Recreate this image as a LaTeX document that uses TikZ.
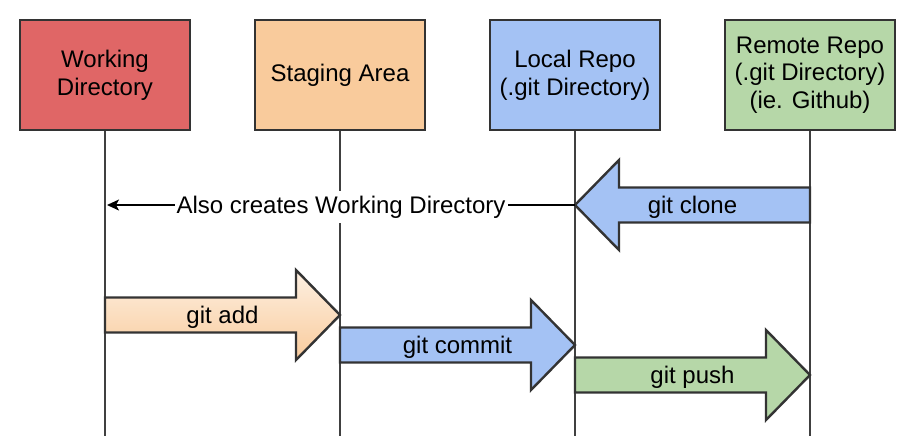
\documentclass[tikz,border=0pt]{standalone}
\usepackage{fontspec}
\setmainfont{Liberation Sans}
\usetikzlibrary{arrows.meta,calc}

\definecolor{rossoWD}{RGB}{224,102,102}
\definecolor{aranciaSA}{RGB}{249,203,156}
\definecolor{arancioChiaro}{RGB}{253,240,226}
\definecolor{bluLR}{RGB}{164,194,244}
\definecolor{verdeRR}{RGB}{182,215,168}
\definecolor{bordo}{RGB}{51,51,51}
\definecolor{linea}{RGB}{64,64,64}

\tikzset{
  blocco/.style={rectangle, draw=bordo, line width=1.2pt, minimum width=85pt, minimum height=55pt,
    align=center, font=\fontsize{12pt}{13.8pt}\selectfont},
  vita/.style={draw=linea, line width=1.2pt},
  etichetta/.style={font=\fontsize{12pt}{14pt}\selectfont, yshift=-1pt},
  frecciadx/.style={draw=bordo, line width=1.2pt, line join=miter,
    to path={let \p1=(\tikztostart), \p2=(\tikztotarget) in
      (\x1,\y1+8.75pt) -- (\x2-22pt,\y1+8.75pt) -- (\x2-22pt,\y1+22.5pt) -- (\x2,\y1)
      -- (\x2-22pt,\y1-22.5pt) -- (\x2-22pt,\y1-8.75pt) -- (\x1,\y1-8.75pt) -- cycle}},
  frecciasx/.style={draw=bordo, line width=1.2pt, line join=miter,
    to path={let \p1=(\tikztostart), \p2=(\tikztotarget) in
      (\x1,\y1+8.75pt) -- (\x2+22pt,\y1+8.75pt) -- (\x2+22pt,\y1+22.5pt) -- (\x2,\y1)
      -- (\x2+22pt,\y1-22.5pt) -- (\x2+22pt,\y1-8.75pt) -- (\x1,\y1-8.75pt) -- cycle}}
}

\begin{document}
\begin{tikzpicture}[x=0.5pt, y=-0.5pt]
  \useasboundingbox (0,0) rectangle (915,436);

  % Definizione dei blocchi
  \node[blocco, fill=rossoWD] (wd) at (105,75) {Working\\Directory};
  \node[blocco, fill=aranciaSA] (sa) at (340,75) {Staging Area};
  \node[blocco, fill=bluLR] (lr) at (575,75) {Local Repo\\(.git Directory)};
  \node[blocco, fill=verdeRR] (rr) at (810,75) {Remote Repo\\(.git Directory)\\(ie. Github)};

  % Linee verticali
  \coordinate (wdfine) at (105,436);
  \coordinate (safine) at (340,436);
  \coordinate (lrfine) at (575,436);
  \coordinate (rrfine) at (810,436);
  \draw[vita] (wd) -- (wdfine);
  \draw[vita] (sa) -- (safine);
  \draw[vita] (lr) -- (lrfine);
  \draw[vita] (rr) -- (rrfine);

  % Punti sulle linee
  \coordinate (rrclone) at (810,205);
  \coordinate (lrclone) at (575,205);
  \coordinate (wdclone) at (107,205);
  \coordinate (wdadd) at (105,315);
  \coordinate (saadd) at (340,315);
  \coordinate (sacommit) at (340,345);
  \coordinate (lrcommit) at (575,345);
  \coordinate (lrpush) at (575,375);
  \coordinate (rrpush) at (810,375);

  % Frecce dei comandi
  \draw[frecciasx, fill=bluLR] (rrclone) to (lrclone); % git clone
  \draw[-{Stealth[length=6pt, width=5.5pt, inset=1.5pt]}, line width=0.75pt] (lrclone) -- node[etichetta, fill=white, inner xsep=1pt, inner ysep=2.5pt] (nota) {Also creates Working Directory} (wdclone); % crea anche la WD
  \draw[frecciadx, top color=arancioChiaro, bottom color=aranciaSA] (wdadd) to (saadd); % git add
  \draw[frecciadx, fill=bluLR] (sacommit) to (lrcommit); % git commit
  \draw[frecciadx, fill=verdeRR] (lrpush) to (rrpush); % git push

  % Etichette
  \node[etichetta] (clone) at ($(rrclone)!0.5!(lrclone)$) {git clone};
  \node[etichetta] (add) at ($(wdadd)!0.5!(saadd)$) {git add};
  \node[etichetta] (commit) at ($(sacommit)!0.5!(lrcommit)$) {git commit};
  \node[etichetta] (push) at ($(lrpush)!0.5!(rrpush)$) {git push};
\end{tikzpicture}
\end{document}
